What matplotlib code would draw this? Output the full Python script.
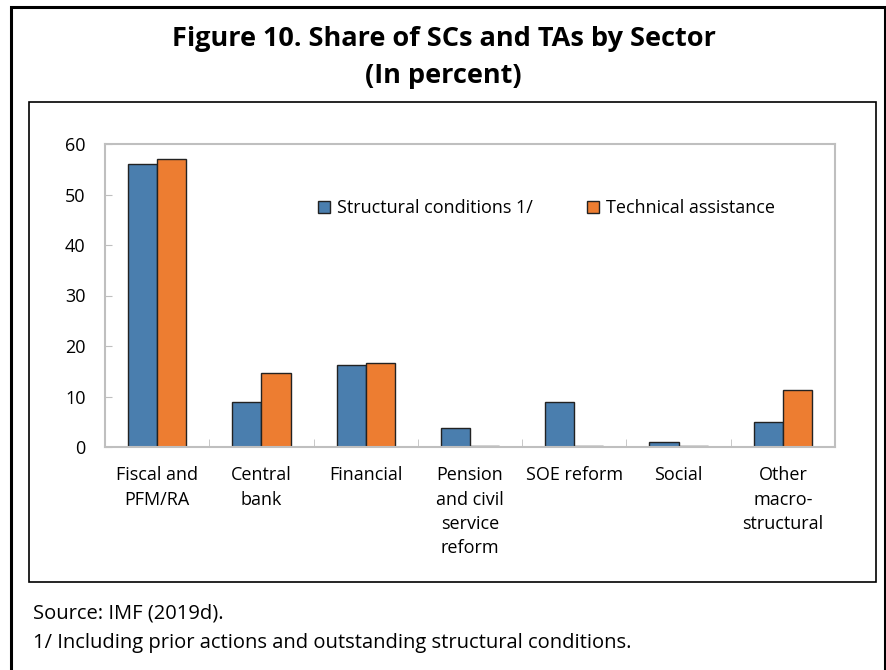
import matplotlib
matplotlib.use("Agg")
import matplotlib.pyplot as plt
from matplotlib.patches import Rectangle, Patch
import numpy as np

plt.rcParams['font.family'] = ['Open Sans', 'DejaVu Sans']

categories = ["Fiscal and\nPFM/RA", "Central\nbank", "Financial",
              "Pension\nand civil\nservice\nreform", "SOE reform", "Social",
              "Other\nmacro-\nstructural"]
structural_conditions = [56.1, 9.0, 16.2, 3.8, 9.0, 0.9, 4.9]
technical_assistance = [57.0, 14.7, 16.7, 0.2, 0.2, 0.2, 11.3]
series_labels = ["Structural conditions 1/", "Technical assistance"]
yticks = [0, 10, 20, 30, 40, 50, 60]

W, H = 887, 670
fig = plt.figure(figsize=(W / 100, H / 100), dpi=100)

def fx(px):
    return px / W

def fy(py):
    return 1 - py / H

# outer frame and inner chart box
fig.patches.append(Rectangle((fx(11), fy(700)), fx(885) - fx(11), fy(7) - fy(700),
                             transform=fig.transFigure, fill=False,
                             edgecolor='black', linewidth=2.2))
fig.patches.append(Rectangle((fx(29), fy(582)), fx(876) - fx(29), fy(102) - fy(582),
                             transform=fig.transFigure, fill=False,
                             edgecolor='black', linewidth=1.2))

fig.text(0.5, fy(39), "Figure 10. Share of SCs and TAs by Sector",
         ha='center', va='center', fontsize=19.5, fontweight='bold')
fig.text(0.5, fy(76), "(In percent)",
         ha='center', va='center', fontsize=19.5, fontweight='bold')

ax = fig.add_axes([fx(105), fy(447), fx(835) - fx(105), fy(144) - fy(447)])

x = np.arange(len(categories))
bw = 0.28
blue = '#4A7EAE'
orange = '#ED7D31'
ax.bar(x - bw / 2, structural_conditions, width=bw, color=blue,
       edgecolor='#222222', linewidth=1.0)
ax.bar(x + bw / 2, technical_assistance, width=bw, color=orange,
       edgecolor='#222222', linewidth=1.0)

ax.set_xlim(-0.5, len(categories) - 0.5)
ax.set_ylim(0, 60)
ax.set_yticks(yticks)
ax.set_yticklabels([str(v) for v in yticks], fontsize=13)

ax.set_xticks(x)
ax.set_xticklabels(categories, fontsize=13, linespacing=1.45, va='top')
ax.tick_params(axis='x', length=0, pad=14)
ax.tick_params(axis='y', direction='in', length=5, color='#BFBFBF', pad=14)

# separators between categories along the baseline
ax.set_xticks(np.arange(len(categories) - 1) + 0.5, minor=True)
ax.tick_params(axis='x', which='minor', direction='in', length=6, color='#BFBFBF')

for s in ax.spines.values():
    s.set_color('#BFBFBF')
    s.set_linewidth(1.5)

handles = [Patch(facecolor=blue, edgecolor='#222222', linewidth=1.0),
           Patch(facecolor=orange, edgecolor='#222222', linewidth=1.0)]
ax.legend(handles, series_labels, loc='center left',
          bbox_to_anchor=((318 - 105) / 730, (447 - 208) / 303),
          ncol=2, frameon=False, fontsize=13, handlelength=0.65,
          handleheight=0.65, handletextpad=0.4, columnspacing=3.0,
          borderaxespad=0, borderpad=0)

fig.text(fx(33), fy(614), "Source: IMF (2019d).", ha='left', va='center', fontsize=14.5)
fig.text(fx(33), fy(643), "1/ Including prior actions and outstanding structural conditions.",
         ha='left', va='center', fontsize=14.5)

fig.savefig("out.png", dpi=100)
